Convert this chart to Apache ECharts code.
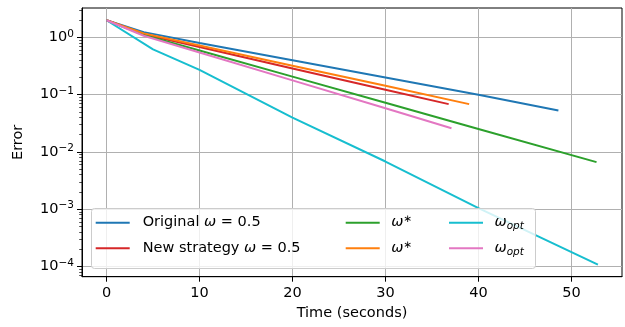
<!DOCTYPE html>
<html>
<head>
<meta charset="utf-8">
<script src="https://cdn.jsdelivr.net/npm/echarts@6/dist/echarts.min.js"></script>
<style>html,body{margin:0;padding:0;background:#fff}#c{width:625px;height:327px}</style>
</head>
<body>
<div id="c"></div>
<script>
// ---- data (time in seconds, error) ----
const timeOriginal = [0, 4, 10, 20, 30, 40, 48.6];
const errOriginal  = [2.0, 1.24, 0.80, 0.40, 0.20, 0.10, 0.053];
const timeNew      = [0, 4, 10, 20, 30, 36.8];
const errNew       = [2.0, 1.14, 0.68, 0.288, 0.122, 0.0685];
const timeStar1    = [0, 4, 10, 20, 30, 40, 52.7];
const errStar1     = [2.0, 1.11, 0.593, 0.207, 0.0723, 0.0252, 0.00664];
const timeStar2    = [0, 4, 10, 20, 30, 39.0];
const errStar2     = [2.0, 1.18, 0.724, 0.321, 0.143, 0.0685];
const timeOpt1     = [0, 5.0, 10, 20, 30, 40, 52.85];
const errOpt1      = [2.0, 0.62, 0.272, 0.0399, 0.0068, 0.00104, 0.000107];
const timeOpt2     = [0, 4, 10, 20, 30, 37.1];
const errOpt2      = [2.0, 1.07, 0.547, 0.178, 0.0578, 0.026];

const xTicks = [0, 10, 20, 30, 40, 50];
const yDecades = [-4, -3, -2, -1, 0];

const FONT = 'DejaVu Sans';
const FS = 14.5;

function pairs(t, e) { return t.map((v, i) => [v, Math.log10(e[i])]); }

const minorTicks = [];
for (let d = -5; d <= 0; d++) {
  for (let k = 2; k <= 9; k++) minorTicks.push(Math.log10(k) + d);
}

const seriesDefs = [
  { name: 'orig',   color: '#1f77b4', t: timeOriginal, e: errOriginal },
  { name: 'new',    color: '#d62728', t: timeNew,      e: errNew },
  { name: 'wstar1', color: '#2ca02c', t: timeStar1,    e: errStar1 },
  { name: 'wstar2', color: '#ff7f0e', t: timeStar2,    e: errStar2 },
  { name: 'wopt1',  color: '#17becf', t: timeOpt1,     e: errOpt1 },
  { name: 'wopt2',  color: '#e377c2', t: timeOpt2,     e: errOpt2 }
];

const legendText = {
  orig:   '{sp1| }{t|Original }{w|ω}{t| = 0.5}',
  new:    '{sp1| }{t|New strategy }{w|ω}{t| = 0.5}',
  wstar1: '{sp2| }{w|ω}{sup|∗}',
  wstar2: '{sp2| }{w|ω}{sup|∗}',
  wopt1:  '{sp2| }{w|ω}{sub|opt}',
  wopt2:  '{sp2| }{w|ω}{sub|opt}'
};

const legendRich = {
  sp1: { width: 8, fontSize: FS, lineHeight: 18 },
  sp2: { width: 6.5, fontSize: FS, lineHeight: 18 },
  t:   { fontFamily: FONT, fontSize: FS, lineHeight: 18, color: '#000' },
  w:   { fontFamily: FONT, fontSize: FS, lineHeight: 18, fontStyle: 'italic', color: '#000' },
  sup: { fontFamily: FONT, fontSize: 10.5, lineHeight: 10, verticalAlign: 'top', color: '#000' },
  sub: { fontFamily: FONT, fontSize: 10.5, lineHeight: 10, verticalAlign: 'bottom', fontStyle: 'italic', color: '#000' }
};

function mkLegend(left, data) {
  return {
    orient: 'vertical', left: left, top: 213.7, itemGap: 7.6,
    itemWidth: 34, itemHeight: 2, icon: 'rect', padding: 0,
    data: data, selectedMode: false, z: 10,
    formatter: n => legendText[n],
    textStyle: { fontFamily: FONT, fontSize: FS, lineHeight: 18, color: '#000', rich: legendRich }
  };
}

const supNum = v => String(v).replace('-', '−');

const option = {
  animation: false,
  backgroundColor: '#fff',
  grid: { left: 82, right: 3, top: 8, bottom: 50.3, show: true, borderColor: '#000', borderWidth: 1, backgroundColor: 'transparent' },
  xAxis: {
    type: 'value', min: -2.64, max: 55.44,
    axisLine: { show: true, onZero: false, lineStyle: { color: '#000', width: 1 } },
    axisTick: { show: true, inside: false, length: 5, customValues: xTicks, lineStyle: { color: '#000', width: 1 } },
    axisLabel: { customValues: xTicks, margin: 9, color: '#000', fontFamily: FONT, fontSize: FS },
    splitLine: { show: true, lineStyle: { color: '#b0b0b0', width: 1 } },
    name: 'Time (seconds)', nameLocation: 'middle', nameGap: 28,
    nameTextStyle: { fontFamily: FONT, fontSize: FS, color: '#000' }
  },
  yAxis: [{
    type: 'value', min: -4.18, max: 0.515, position: 'left',
    axisLine: { show: true, onZero: false, lineStyle: { color: '#000', width: 1 } },
    axisTick: { show: true, inside: false, length: 5, customValues: yDecades, lineStyle: { color: '#000', width: 1 } },
    axisLabel: {
      customValues: yDecades, margin: 8,
      formatter: v => '{b|10}{s|' + supNum(Math.round(v)) + '}',
      rich: {
        b: { fontFamily: FONT, fontSize: FS, lineHeight: 18, color: '#000' },
        s: { fontFamily: FONT, fontSize: 10.5, lineHeight: 10, verticalAlign: 'top', color: '#000' }
      }
    },
    splitLine: { show: true, lineStyle: { color: '#b0b0b0', width: 1 } },
    name: 'Error', nameLocation: 'middle', nameGap: 56, nameRotate: 90,
    nameTextStyle: { fontFamily: FONT, fontSize: FS, color: '#000' }
  }, {
    type: 'value', min: -4.18, max: 0.515, position: 'left', offset: 0,
    axisLine: { show: false, onZero: false },
    axisTick: { show: true, inside: false, length: 2.8, customValues: minorTicks, lineStyle: { color: '#000', width: 0.7 } },
    axisLabel: { show: false },
    splitLine: { show: false }
  }],
  legend: [
    mkLegend(95.7, ['orig', 'new']),
    mkLegend(345.7, ['wstar1', 'wstar2']),
    mkLegend(449, ['wopt1', 'wopt2'])
  ],
  graphic: [{
    type: 'rect', left: 91, top: 208, z: 5,
    shape: { width: 444, height: 60, r: 3 },
    style: { fill: 'rgba(255,255,255,0.8)', stroke: '#cccccc', lineWidth: 1 }
  }],
  series: seriesDefs.map(s => ({
    name: s.name, type: 'line', yAxisIndex: 0, showSymbol: false, symbol: 'none',
    data: pairs(s.t, s.e),
    lineStyle: { color: s.color, width: 2 },
    itemStyle: { color: s.color },
    emphasis: { disabled: true }
  }))
};

const chart = echarts.init(document.getElementById('c'), null, { renderer: 'canvas' });
chart.setOption(option);
</script>
</body>
</html>
